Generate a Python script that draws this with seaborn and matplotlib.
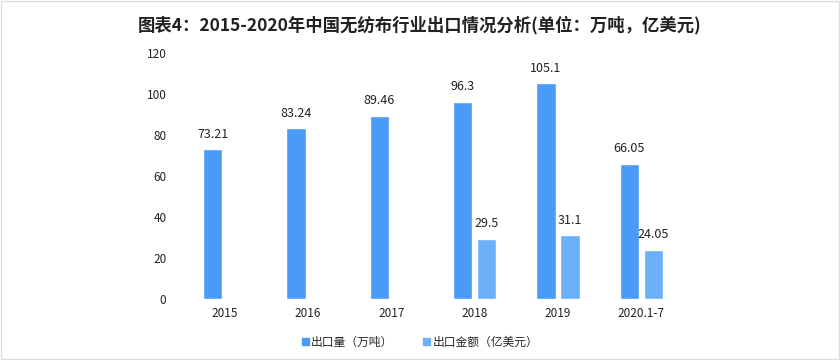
import numpy as np
import pandas as pd
import matplotlib.pyplot as plt
import seaborn as sns

years = ['2015', '2016', '2017', '2018', '2019', '2020.1-7']
volume = [73.21, 83.24, 89.46, 96.3, 105.1, 66.05]          # 出口量（万吨）
amount = [np.nan, np.nan, np.nan, 29.5, 31.1, 24.05]        # 出口金额（亿美元）
series = ['出口量（万吨）', '出口金额（亿美元）']
colors = ['#4a9bf7', '#6cb0f9']

sns.set_theme(style='white')
plt.rcParams['font.family'] = ['Noto Sans CJK SC', 'DejaVu Sans']
plt.rcParams['axes.unicode_minus'] = False

df = pd.DataFrame({
    'year': years * 2,
    'value': volume + amount,
    'series': [series[0]] * len(years) + [series[1]] * len(years),
})

fig = plt.figure(figsize=(8.4, 3.6), dpi=100)
ax = fig.add_axes([0.218, 0.169, 0.595, 0.684])
sns.barplot(data=df, x='year', y='value', hue='series', palette=colors,
            width=0.58, gap=0.2, ax=ax, saturation=1, legend=False)

for cont in ax.containers:
    labels = ['' if np.isnan(v) else f'{v:g}' for v in cont.datavalues]
    ax.bar_label(cont, labels=labels, padding=6, fontsize=9, color='#222222')

ax.set_ylim(0, 120)
ax.set_yticks(range(0, 121, 20))
ax.set_xlabel('')
ax.set_ylabel('')
sns.despine(ax=ax, left=True, bottom=True)
ax.tick_params(axis='both', length=0, labelsize=8.5, colors='#222222')
ax.tick_params(axis='y', pad=12)
ax.tick_params(axis='x', pad=6)

handles = [plt.Rectangle((0, 0), 1, 1, color=c) for c in colors]
fig.legend(handles, series, loc='center', bbox_to_anchor=(0.5, 0.05), ncol=2,
           frameon=False, fontsize=8.5, handlelength=0.6, handleheight=0.6,
           handletextpad=0.2, columnspacing=2.5)

fig.suptitle('图表4：2015-2020年中国无纺布行业出口情况分析(单位：万吨，亿美元)',
             y=0.955, fontsize=12.5, fontweight='bold', color='#222222')

fig.patches.append(plt.Rectangle((0.001, 0.002), 0.998, 0.996, transform=fig.transFigure,
                                 fill=False, edgecolor='#dddddd', linewidth=1))

fig.savefig('out.png', dpi=100)
